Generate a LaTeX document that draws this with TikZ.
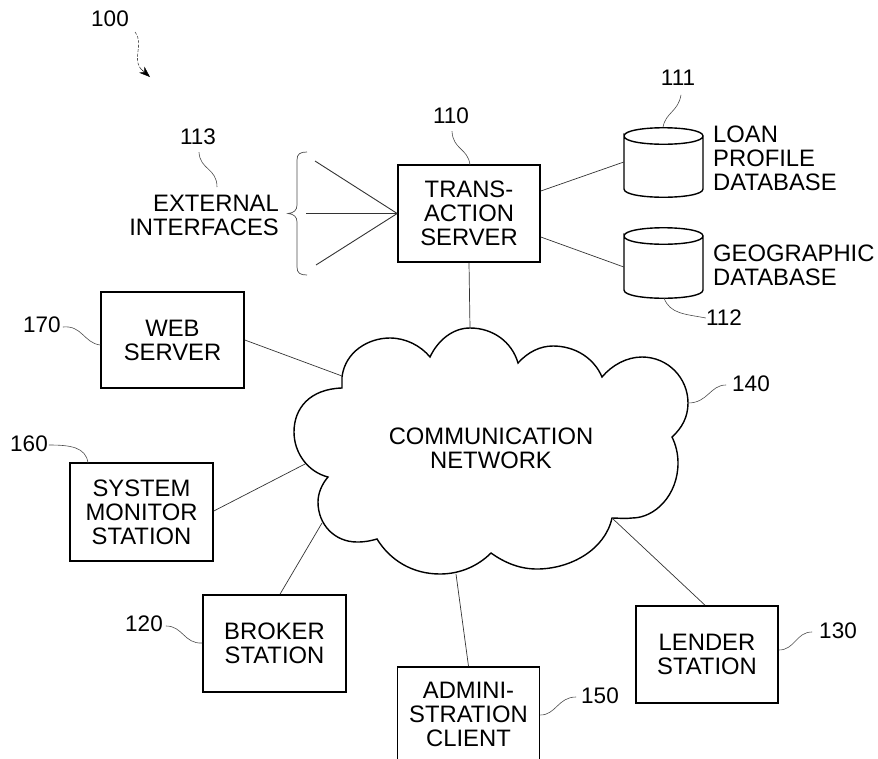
\documentclass[tikz,border=0pt]{standalone}
\usepackage{fontspec}
\setmainfont{Liberation Sans}
\usetikzlibrary{arrows.meta}
\tikzset{
  lab/.style={inner sep=0pt,align=center,font=\fontsize{23.8}{24}\selectfont,text=black},
  num/.style={lab,font=\fontsize{22.5}{24}\selectfont},
  boxn/.style={lab,draw=black,line width=1.6pt,minimum width=143pt,minimum height=97pt},
  conn/.style={line width=0.7pt,draw=black!80},
  lead/.style={line width=0.6pt,draw=black!70},
  cyl/.style={line width=1.4pt,draw=black},
  ghost/.style={inner sep=0pt,minimum width=79pt,minimum height=69pt}
}
\begin{document}
\begin{tikzpicture}[x=1pt,y=-1pt]
\useasboundingbox (0,0) rectangle (878,758);
% boxes
\node[boxn,minimum width=142pt] (trans) at (469,213.5) {TRANS-\\ACTION\\SERVER};
\node[boxn,minimum height=96pt] (web) at (172.5,340) {WEB\\SERVER};
\node[boxn,minimum height=98pt] (sys) at (141.5,512) {SYSTEM\\MONITOR\\STATION};
\node[boxn] (broker) at (274.5,643.5) {BROKER\\STATION};
\node[boxn,minimum width=142pt,minimum height=94pt] (admin) at (468.5,714) {ADMINI-\\STRATION\\CLIENT};
\node[boxn,minimum width=142pt] (lender) at (707,654.5) {LENDER\\STATION};
% cylinders
\node[ghost] (db1) at (663.5,162.5) {};
\node[ghost] (db2) at (663.5,263) {};
\draw[cyl] (624,136) .. controls (624,125) and (703,125) .. (703,136) .. controls (703,147) and (624,147) .. (624,136)
  -- (624,189) .. controls (624,200) and (703,200) .. (703,189) -- (703,136);
\draw[cyl] (624,236) .. controls (624,225) and (703,225) .. (703,236) .. controls (703,247) and (624,247) .. (624,236)
  -- (624,290) .. controls (624,301) and (703,301) .. (703,290) -- (703,236);
% cloud
\node[lab] (net) at (491,448) {COMMUNICATION\\NETWORK};
\draw[line width=1.4pt,draw=black,line join=miter] (342,388) -- (342,377)
  .. controls (345,352) and (368,338) .. (390,338) .. controls (406,338) and (421,346) .. (430,357)
  .. controls (438,340) and (453,328) .. (470,328) .. controls (493,328) and (512,342) .. (518,363)
  .. controls (528,352) and (540,346) .. (553,346) .. controls (575,346) and (594,358) .. (602,377)
  .. controls (612,365) and (627,357) .. (642,357) .. controls (668,357) and (688,378) .. (688,403)
  .. controls (688,417) and (682,428) .. (672,437)
  .. controls (676,445) and (678,454) .. (678,463) .. controls (678,495) and (655,518) .. (632,518)
  .. controls (625,519) and (618,518) .. (612,518)
  .. controls (605,550) and (570,569) .. (537,569) .. controls (520,569) and (505,563) .. (491,553)
  .. controls (478,566) and (460,574) .. (440,574) .. controls (412,574) and (390,560) .. (377,539)
  .. controls (370,541) and (365,542) .. (357,542) .. controls (335,542) and (318,525) .. (318,502)
  .. controls (318,493) and (322,484) .. (328,477)
  .. controls (308,472) and (294,453) .. (294,432) .. controls (294,408) and (310,389) .. (342,388) -- cycle;
% cloud attachment points
\coordinate (cT) at (470,328);
\coordinate (cW) at (342,376);
\coordinate (cS) at (305,464);
\coordinate (cB) at (322,523);
\coordinate (cA) at (456,574);
\coordinate (cL) at (612,518);
\coordinate (cR) at (688,403);
% connectors
\draw[conn] (trans.south) -- (cT);
\draw[conn] (web.east |- 0,340) -- (cW);
\draw[conn] (sys.east |- 0,511) -- (cS);
\draw[conn] (broker.north -| 280,0) -- (cB);
\draw[conn] (admin.north) -- (cA);
\draw[conn] (lender.north -| 705,0) -- (cL);
\draw[conn] (trans.east |- 0,191) -- (db1.west |- 0,162);
\draw[conn] (trans.east |- 0,237) -- (db2.west |- 0,267);
% external interfaces
\coordinate (eA) at (315,161);
\coordinate (eB) at (306,213.5);
\coordinate (eC) at (316,265);
\draw[conn,line width=0.9pt] (trans.west) -- (eA);
\draw[conn,line width=0.9pt] (trans.west) -- (eB);
\draw[conn,line width=0.9pt] (trans.west) -- (eC);
\draw[line width=0.7pt,draw=black!70] (307,152) .. controls (300,152) and (297,154) .. (297,160) -- (297,205)
  .. controls (297,210) and (294,213) .. (288,213.5) .. controls (294,214) and (297,217) .. (297,222) -- (297,267)
  .. controls (297,273) and (300,275) .. (307,275);
\node[lab,align=right,anchor=east] (ext) at (279,215) {EXTERNAL\\INTERFACES};
\node[lab,align=left,anchor=west] (loan) at (713,158) {LOAN\\PROFILE\\DATABASE};
\node[lab,align=left,anchor=west] (geo) at (713,265) {GEOGRAPHIC\\DATABASE};
% reference numbers
\node[num] (n100) at (110,19) {100};
\node[num] (n113) at (198,137) {113};
\node[num] (n110) at (451,116) {110};
\node[num] (n111) at (678,78) {111};
\node[num] (n112) at (724,318) {112};
\node[num] (n170) at (42,325) {170};
\node[num] (n160) at (29,444) {160};
\node[num] (n120) at (144,624) {120};
\node[num] (n150) at (600,696) {150};
\node[num] (n130) at (838,631) {130};
\node[num] (n140) at (751,384) {140};
% leaders
\coordinate (l100) at (150,77);
\draw[lead,dash pattern=on 3pt off 1.5pt] (135,32) .. controls (145,45) and (130,60) .. (143,71);
\draw[draw=black,-{Stealth[length=11pt,width=8pt]}] (141,69) -- (l100);
\draw[lead] (n113.south) ++(1,7) .. controls (200,170) and (217,168) .. (217,187);
\draw[lead] (n110.south) ++(1,7) .. controls (453,150) and (468,148) .. (470,165);
\draw[lead] (n111.south) ++(3,9) .. controls (678,112) and (666,112) .. (663,127);
\draw[lead] (664,298) .. controls (670,314) and (685,314) .. (n112.west);
\draw[lead] (n170.east) ++(2,2) .. controls (82,325) and (84,343) .. (web.west |- 0,345);
\draw[lead] (n160.east) ++(1,1) .. controls (70,445) and (86,447) .. (88,463);
\draw[lead] (n120.east) ++(3,2) .. controls (183,626) and (184,644) .. (broker.west |- 0,643);
\draw[lead] (n150.west) ++(-5,1) .. controls (558,697) and (556,715) .. (admin.east |- 0,715);
\draw[lead] (n130.west) ++(-7,1) .. controls (796,632) and (795,650) .. (lender.east |- 0,650);
\draw[lead] (n140.west) ++(-6,1) .. controls (710,385) and (708,403) .. (cR);
\end{tikzpicture}
\end{document}
